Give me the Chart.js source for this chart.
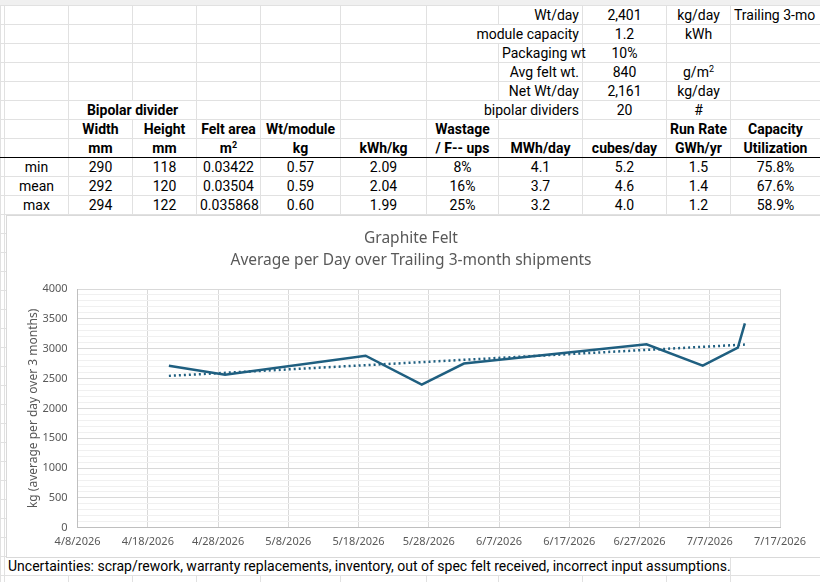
<!DOCTYPE html>
<html>
<head>
<meta charset="utf-8">
<script src="https://cdn.jsdelivr.net/npm/chart.js@4.4.1/dist/chart.umd.min.js"></script>
<style>
  html, body { margin: 0; padding: 0; background: #fff; }
  #sheet { position: relative; width: 820px; height: 582px; overflow: hidden; font-family: "Roboto", sans-serif; font-size: 14px; color: #000; }
  #colhead { position: absolute; left: 0; top: 0; width: 820px; height: 5px; background: #f0f0f0; border-bottom: 1px solid #9e9e9e; }
  table { position: absolute; left: 0; top: 5px; border-collapse: collapse; table-layout: fixed; width: 820px; }
  tr { height: 19px; }
  td { border: 1px solid #e1e1e1; padding: 0 3px; height: 18px; line-height: 16px; white-space: nowrap; overflow: visible; text-align: center; }
  td.r { text-align: right; }
  td.l { text-align: left; }
  td.b { font-weight: bold; }
  sup { font-size: 9px; line-height: 0; vertical-align: 5px; }
  tr.line td { border-bottom: 1px solid #000; }
  #chartBox { position: absolute; left: 6px; top: 215px; width: 813px; height: 341px; background: #fff; border: 1px solid #d9d9d9; border-right: none; }
</style>
</head>
<body>
<div id="sheet">
  <div id="colhead"></div>
  <table id="grid">
    <colgroup>
      <col style="width:4px"><col style="width:64px"><col style="width:64px"><col style="width:64px"><col style="width:64px"><col style="width:80px"><col style="width:86px"><col style="width:72px"><col style="width:84px"><col style="width:84px"><col style="width:64px"><col style="width:90px">
    </colgroup>
    <tbody id="rows"></tbody>
  </table>
  <div id="chartBox"><canvas id="grafico"></canvas></div>
</div>
<script>
// dates and averages
const shipDates = ["2026-04-21", "2026-04-29", "2026-05-19", "2026-05-27", "2026-06-02", "2026-06-28", "2026-07-06", "2026-07-11", "2026-07-12"];
const kgPerDay = [2715, 2565, 2883, 2400, 2752, 3075, 2718, 3020, 3423];
const trendDates = ["2026-04-21", "2026-07-12"];
const trendKg = [2545, 3070];
const axisStart = "2026-04-08";
const axisEnd = "2026-07-17";
const yTicks = [0, 500, 1000, 1500, 2000, 2500, 3000, 3500, 4000];

// spreadsheet cells
const inputLabels = ["Wt/day", "module capacity", "Packaging wt", "Avg felt wt.", "Net Wt/day", "bipolar dividers"];
const inputValues = ["2,401", "1.2", "10%", "840", "2,161", "20"];
const inputUnits = ["kg/day", "kWh", "", "g/m<sup>2</sup>", "kg/day", "#"];
const rowNames = ["min", "mean", "max"];
const widthMm = ["290", "292", "294"];
const heightMm = ["118", "120", "122"];
const feltArea = ["0.03422", "0.03504", "0.035868"];
const wtModule = ["0.57", "0.59", "0.60"];
const kwhPerKg = ["2.09", "2.04", "1.99"];
const wastage = ["8%", "16%", "25%"];
const mwhDay = ["4.1", "3.7", "3.2"];
const cubesDay = ["5.2", "4.6", "4.0"];
const runRate = ["1.5", "1.4", "1.2"];
const capUtil = ["75.8%", "67.6%", "58.9%"];
const note = "Uncertainties: scrap/rework, warranty replacements, inventory, out of spec felt received, incorrect input assumptions.";

const td = (t, cls, span) => `<td${cls ? ` class="${cls}"` : ""}${span ? ` colspan="${span}"` : ""}>${t || ""}</td>`;
let html = "";
for (let i = 0; i < 6; i++) {
  let r = "<tr>" + td() + td() + td() + td() + td() + td() + td();
  if (i === 1 || i === 5) r += td(inputLabels[i], "r", 2);
  else r += td() + td(inputLabels[i], "r");
  if (i === 5) r = "<tr>" + td() + td() + td("Bipolar divider", "b", 2) + td() + td() + td() + td(inputLabels[i], "r", 2);
  r += td(inputValues[i]) + td(inputUnits[i]) + td(i === 0 ? "Trailing 3-mo" : "", "l") + "</tr>";
  html += r;
}
html += "<tr>" + td() + td() + td("Width", "b") + td("Height", "b") + td("Felt area", "b") + td("Wt/module", "b") + td() + td("Wastage", "b") + td() + td() + td("Run Rate", "b") + td("Capacity", "b") + "</tr>";
html += '<tr class="line">' + td() + td() + td("mm", "b") + td("mm", "b") + td("m<sup>2</sup>", "b") + td("kg", "b") + td("kWh/kg", "b") + td("/ F-- ups", "b") + td("MWh/day", "b") + td("cubes/day", "b") + td("GWh/yr", "b") + td("Utilization", "b") + "</tr>";
for (let i = 0; i < 3; i++) {
  html += "<tr>" + td() + td(rowNames[i]) + td(widthMm[i]) + td(heightMm[i]) + td(feltArea[i]) + td(wtModule[i]) + td(kwhPerKg[i]) + td(wastage[i]) + td(mwhDay[i]) + td(cubesDay[i]) + td(runRate[i]) + td(capUtil[i]) + "</tr>";
}
for (let i = 0; i < 18; i++) {
  html += "<tr>" + td().repeat(12) + "</tr>";
}
html += "<tr>" + td() + td(note, "l", 10) + td() + "</tr>";
html += "<tr>" + td().repeat(12) + "</tr>";
document.getElementById("rows").innerHTML = html;

const day0 = Date.parse(axisStart);
const toDay = (d) => Math.round((Date.parse(d) - day0) / 86400000);
const fmtDay = (n) => {
  const d = new Date(day0 + n * 86400000);
  return (d.getUTCMonth() + 1) + "/" + d.getUTCDate() + "/" + d.getUTCFullYear();
};

const lineColor = "#1f5f80";
const grey = "#595959";

const ctx = document.getElementById("grafico").getContext("2d");
const grafico = new Chart(ctx, {
  type: "line",
  data: {
    datasets: [
      {
        label: "Average kg/day",
        data: shipDates.map((d, i) => ({ x: toDay(d), y: kgPerDay[i] })),
        borderColor: lineColor,
        borderWidth: 2.5,
        pointRadius: 0,
        tension: 0,
      },
      {
        label: "Linear trend",
        data: trendDates.map((d, i) => ({ x: toDay(d), y: trendKg[i] })),
        borderColor: lineColor,
        borderWidth: 2.5,
        borderDash: [2, 3],
        pointRadius: 0,
      },
    ],
  },
  options: {
    responsive: true,
    maintainAspectRatio: false,
    animation: false,
    layout: { padding: { top: 12, left: 35, right: 40, bottom: 2 } },
    plugins: {
      legend: { display: false },
      tooltip: { enabled: false },
      title: {
        display: true,
        text: ["Graphite Felt", "Average per Day over Trailing 3-month shipments"],
        color: grey,
        font: { family: "Noto Sans", size: 15.5, weight: "normal", lineHeight: 1.42 },
        padding: { top: 0, bottom: 17 },
      },
    },
    scales: {
      x: {
        type: "linear",
        min: toDay(axisStart),
        max: toDay(axisEnd),
        ticks: {
          stepSize: 10,
          color: grey,
          font: { family: "Noto Sans", size: 11 },
          maxRotation: 0,
          padding: 7,
          callback: (v) => fmtDay(v),
        },
        grid: { color: "#d9d9d9", drawTicks: false },
        border: { color: "#bfbfbf" },
      },
      y: {
        min: 0,
        max: 4000,
        ticks: {
          stepSize: 100,
          autoSkip: false,
          color: grey,
          font: { family: "Noto Sans", size: 11 },
          padding: 10,
          callback: (v) => (yTicks.includes(v) ? v : ""),
        },
        grid: {
          drawTicks: false,
          color: (c) => (yTicks.includes(c.tick.value) ? "#d9d9d9" : "#f0f0f0"),
        },
        border: { color: "#bfbfbf" },
        title: {
          display: true,
          text: "kg (average per day over 3 months)",
          color: grey,
          font: { family: "Noto Sans", size: 12 },
          padding: { top: -16, bottom: -8 },
        },
      },
    },
  },
});
</script>
</body>
</html>
